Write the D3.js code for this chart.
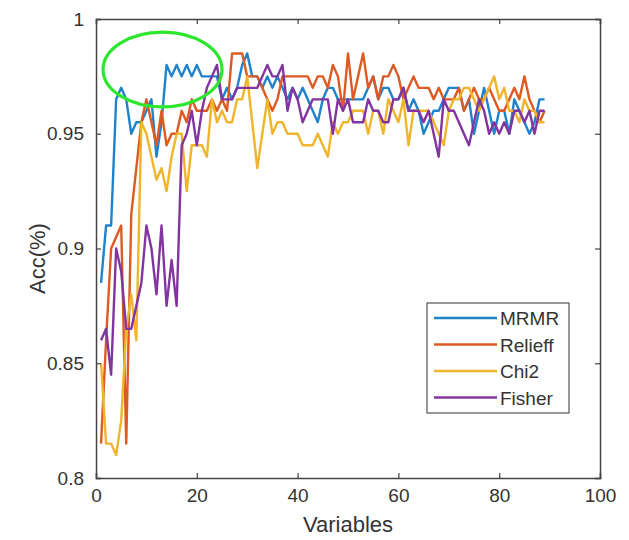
<!DOCTYPE html>
<html>
<head>
<meta charset="utf-8">
<script src="https://cdn.jsdelivr.net/npm/d3@7"></script>
<style>
  body { margin: 0; background: #fff; }
  svg text { font-family: "Liberation Sans", Arial, sans-serif; fill: #333; }
</style>
</head>
<body>
<svg id="chart" width="629" height="540"></svg>
<script>
// Values per number of variables (1..89)
const variables = d3.range(1, 90);

const mrmr = [0.885,0.91,0.91,0.965,0.97,0.965,0.95,0.955,0.955,0.96,
  0.965,0.94,0.955,0.98,0.975,0.98,0.975,0.98,0.975,0.98,
  0.975,0.975,0.975,0.975,0.965,0.97,0.965,0.97,0.98,0.985,
  0.975,0.975,0.97,0.975,0.97,0.975,0.97,0.965,0.97,0.965,
  0.97,0.965,0.96,0.955,0.965,0.97,0.97,0.965,0.965,0.965,
  0.965,0.965,0.965,0.97,0.975,0.965,0.97,0.97,0.965,0.965,
  0.97,0.96,0.965,0.96,0.95,0.955,0.96,0.96,0.965,0.97,
  0.97,0.97,0.96,0.965,0.95,0.96,0.97,0.96,0.95,0.96,
  0.96,0.95,0.965,0.96,0.955,0.95,0.955,0.965,0.965];

const relieff = [0.815,0.86,0.90,0.905,0.91,0.815,0.915,0.935,0.955,0.965,
  0.955,0.945,0.96,0.945,0.95,0.95,0.96,0.955,0.965,0.96,
  0.96,0.96,0.965,0.96,0.965,0.96,0.985,0.985,0.985,0.975,
  0.975,0.975,0.97,0.965,0.96,0.965,0.975,0.975,0.975,0.975,
  0.975,0.975,0.97,0.975,0.975,0.97,0.98,0.975,0.96,0.985,
  0.965,0.975,0.985,0.97,0.975,0.965,0.975,0.975,0.98,0.975,
  0.965,0.97,0.975,0.97,0.97,0.97,0.965,0.97,0.965,0.965,
  0.965,0.97,0.96,0.965,0.97,0.965,0.965,0.97,0.965,0.96,
  0.96,0.965,0.97,0.965,0.975,0.965,0.96,0.955,0.96];

const chi2 = [0.85,0.815,0.815,0.81,0.825,0.865,0.88,0.86,0.955,0.95,
  0.94,0.93,0.935,0.925,0.94,0.95,0.95,0.925,0.945,0.945,
  0.945,0.94,0.965,0.955,0.96,0.955,0.955,0.965,0.965,0.975,
  0.955,0.935,0.95,0.965,0.95,0.955,0.955,0.95,0.95,0.95,
  0.945,0.945,0.945,0.95,0.945,0.94,0.955,0.95,0.955,0.955,
  0.96,0.96,0.96,0.95,0.96,0.96,0.95,0.965,0.96,0.955,
  0.965,0.945,0.96,0.96,0.96,0.96,0.955,0.95,0.945,0.96,
  0.965,0.965,0.97,0.97,0.965,0.96,0.965,0.97,0.975,0.965,
  0.97,0.96,0.96,0.955,0.965,0.96,0.96,0.955,0.955];

const fisher = [0.86,0.865,0.845,0.90,0.89,0.865,0.865,0.875,0.885,0.91,
  0.90,0.88,0.91,0.875,0.895,0.875,0.945,0.95,0.96,0.945,
  0.96,0.97,0.975,0.98,0.965,0.965,0.965,0.97,0.97,0.97,
  0.97,0.97,0.975,0.98,0.975,0.975,0.98,0.96,0.97,0.965,
  0.955,0.96,0.965,0.965,0.965,0.965,0.95,0.965,0.96,0.965,
  0.955,0.955,0.955,0.965,0.96,0.96,0.955,0.955,0.965,0.965,
  0.97,0.96,0.96,0.96,0.955,0.96,0.95,0.94,0.965,0.96,
  0.96,0.955,0.95,0.945,0.955,0.965,0.96,0.95,0.955,0.95,
  0.955,0.95,0.96,0.96,0.955,0.96,0.95,0.96,0.96];

const seriesNames = ["MRMR", "Relieff", "Chi2", "Fisher"];
const seriesValues = [mrmr, relieff, chi2, fisher];
const seriesColors = ["#1f83cc", "#dd5a22", "#f0b52a", "#8234a0"];

const xTicks = [0, 20, 40, 60, 80, 100];
const yTicks = [0.8, 0.85, 0.9, 0.95, 1];

// highlighted region (green ellipse), in data units
const highlight = { cx: 13.2, cy: 0.978, rx: 11.8, ry: 0.0163 };

const svg = d3.select("#chart");
const margin = { left: 96, right: 29, top: 19, bottom: 62 };
const width = 629 - margin.left - margin.right;
const height = 540 - margin.top - margin.bottom;

const x = d3.scaleLinear().domain([0, 100]).range([0, width]);
const y = d3.scaleLinear().domain([0.8, 1]).range([height, 0]);

const g = svg.append("g").attr("transform", `translate(${margin.left},${margin.top})`);

// lines
const line = d3.line()
    .x((d, i) => x(variables[i]))
    .y(d => y(d));

seriesValues.forEach((vals, k) => {
    g.append("path")
        .datum(vals)
        .attr("fill", "none")
        .attr("stroke", seriesColors[k])
        .attr("stroke-width", 2.4)
        .attr("stroke-linejoin", "round")
        .attr("d", line);
});

// green ellipse
g.append("ellipse")
    .attr("cx", x(highlight.cx))
    .attr("cy", y(highlight.cy))
    .attr("rx", x(highlight.rx) - x(0))
    .attr("ry", y(0.8) - y(0.8 + highlight.ry))
    .attr("fill", "none")
    .attr("stroke", "#2ee62e")
    .attr("stroke-width", 3.2);

// axes, MATLAB-like box with inward ticks
const axisColor = "#444";
const fontSize = 19;

const xAxis = g.append("g").attr("transform", `translate(0,${height})`)
    .call(d3.axisBottom(x).tickValues(xTicks).tickSize(-5).tickPadding(11).tickFormat(d3.format("d")));
const xAxisTop = g.append("g")
    .call(d3.axisTop(x).tickValues(xTicks).tickSize(-5).tickFormat(""));
const yAxis = g.append("g")
    .call(d3.axisLeft(y).tickValues(yTicks).tickSize(-5).tickPadding(12).tickFormat(d => d === 1 ? "1" : d3.format("")(d)));
const yAxisRight = g.append("g").attr("transform", `translate(${width},0)`)
    .call(d3.axisRight(y).tickValues(yTicks).tickSize(-5).tickFormat(""));

[xAxis, xAxisTop, yAxis, yAxisRight].forEach(a => {
    a.select(".domain").attr("stroke", axisColor).attr("stroke-width", 1.5);
    a.selectAll(".tick line").attr("stroke", axisColor).attr("stroke-width", 1.2);
    a.selectAll("text").style("font-size", fontSize + "px").attr("fill", "#333");
});

// axis labels
svg.append("text")
    .attr("x", margin.left + width / 2)
    .attr("y", 532)
    .attr("text-anchor", "middle")
    .style("font-size", "22px")
    .text("Variables");

svg.append("text")
    .attr("transform", `translate(45,${margin.top + height / 2 + 10}) rotate(-90)`)
    .attr("text-anchor", "middle")
    .style("font-size", "22px")
    .text("Acc(%)");

// legend
const legend = g.append("g").attr("transform", `translate(${427 - margin.left},${303 - margin.top})`);
legend.append("rect")
    .attr("width", 142).attr("height", 110)
    .attr("fill", "#fff")
    .attr("stroke", "#555").attr("stroke-width", 1.2);

seriesNames.forEach((name, k) => {
    const row = legend.append("g").attr("transform", `translate(0,${15 + k * 26.5})`);
    row.append("line")
        .attr("x1", 7).attr("x2", 70)
        .attr("stroke", seriesColors[k]).attr("stroke-width", 2.4);
    row.append("text")
        .attr("x", 73).attr("y", 7)
        .style("font-size", fontSize + "px")
        .text(name);
});
</script>
</body>
</html>
